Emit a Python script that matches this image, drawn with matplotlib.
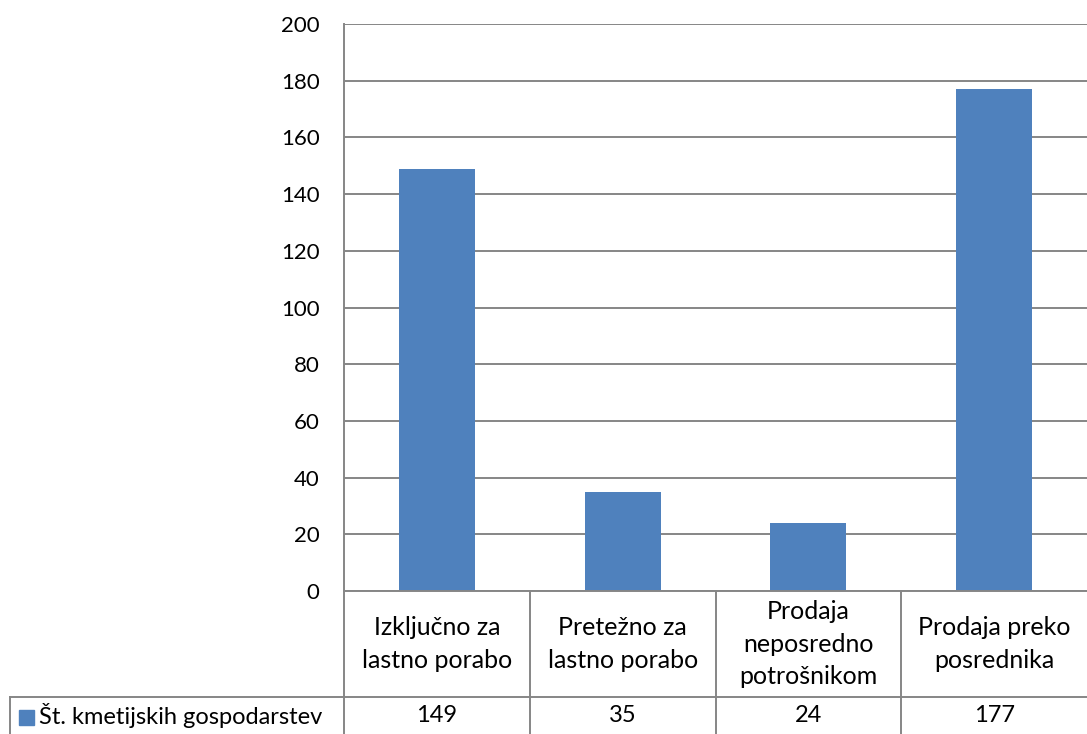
import matplotlib
matplotlib.use("Agg")
import matplotlib.pyplot as plt
from matplotlib.lines import Line2D
from matplotlib.patches import Rectangle

categories = ["Izključno za\nlastno porabo", "Pretežno za\nlastno porabo",
              "Prodaja\nneposredno\npotrošnikom", "Prodaja preko\nposrednika"]
values = [149, 35, 24, 177]
series_name = "Št. kmetijskih gospodarstev"
yticks = [0, 20, 40, 60, 80, 100, 120, 140, 160, 180, 200]

W, H = 1087, 734
BLUE = "#4F81BD"
GRID = "#868686"
FONT = "Lato"
FS_TICK = 16
FS_CAT = 18
FS_NUM = 17

fig = plt.figure(figsize=(W / 100, H / 100), dpi=100)

def fx(px):
    return px / W

def fy(py):
    return 1 - py / H

x0, x1 = 344, 1087
ytop, ybot = 24, 591
ax = fig.add_axes([fx(x0), fy(ybot), fx(x1) - fx(x0), fy(ytop) - fy(ybot)])
ax.bar(range(len(values)), values, width=0.41, color=BLUE, zorder=3)
ax.set_xlim(-0.5, len(values) - 0.5)
ax.set_ylim(0, 200)
ax.set_yticks(yticks)
ax.set_yticklabels([str(t) for t in yticks], fontfamily=FONT, fontsize=FS_TICK)
ax.tick_params(axis="y", length=0, pad=17.5)
ax.set_xticks([])
ax.grid(axis="y", color=GRID, linewidth=1.4, zorder=0)
for s in ["top", "right", "bottom"]:
    ax.spines[s].set_visible(False)
ax.spines["left"].set_color(GRID)
ax.spines["left"].set_linewidth(1.4)

# data table
row_y = 697
bottom = 734
cw = (x1 - x0) / len(categories)
lw = 1.4
fig.add_artist(Line2D([fx(x0), fx(x1)], [fy(ybot), fy(ybot)], transform=fig.transFigure, color=GRID, lw=lw))
fig.add_artist(Line2D([fx(10), fx(x1)], [fy(row_y), fy(row_y)], transform=fig.transFigure, color=GRID, lw=lw))
fig.add_artist(Line2D([fx(10), fx(10)], [fy(row_y), fy(bottom)], transform=fig.transFigure, color=GRID, lw=lw))
for i in range(len(categories)):
    xs = x0 + i * cw
    fig.add_artist(Line2D([fx(xs), fx(xs)], [fy(ybot), fy(bottom)], transform=fig.transFigure, color=GRID, lw=lw))
for i, (c, v) in enumerate(zip(categories, values)):
    cx = x0 + (i + 0.5) * cw
    fig.text(fx(cx), fy(644), c, ha="center", va="center",
             fontfamily=FONT, fontsize=FS_CAT, linespacing=1.48)
    fig.text(fx(cx), fy(716), str(v), ha="center", va="center",
             fontfamily=FONT, fontsize=FS_NUM)
fig.add_artist(Rectangle((fx(19), fy(725)), fx(15), fy(710) - fy(725), transform=fig.transFigure, color=BLUE))
fig.text(fx(39), fy(716), series_name, ha="left", va="center",
         fontfamily=FONT, fontsize=FS_NUM)

fig.savefig("out.png", dpi=100, facecolor="white")
